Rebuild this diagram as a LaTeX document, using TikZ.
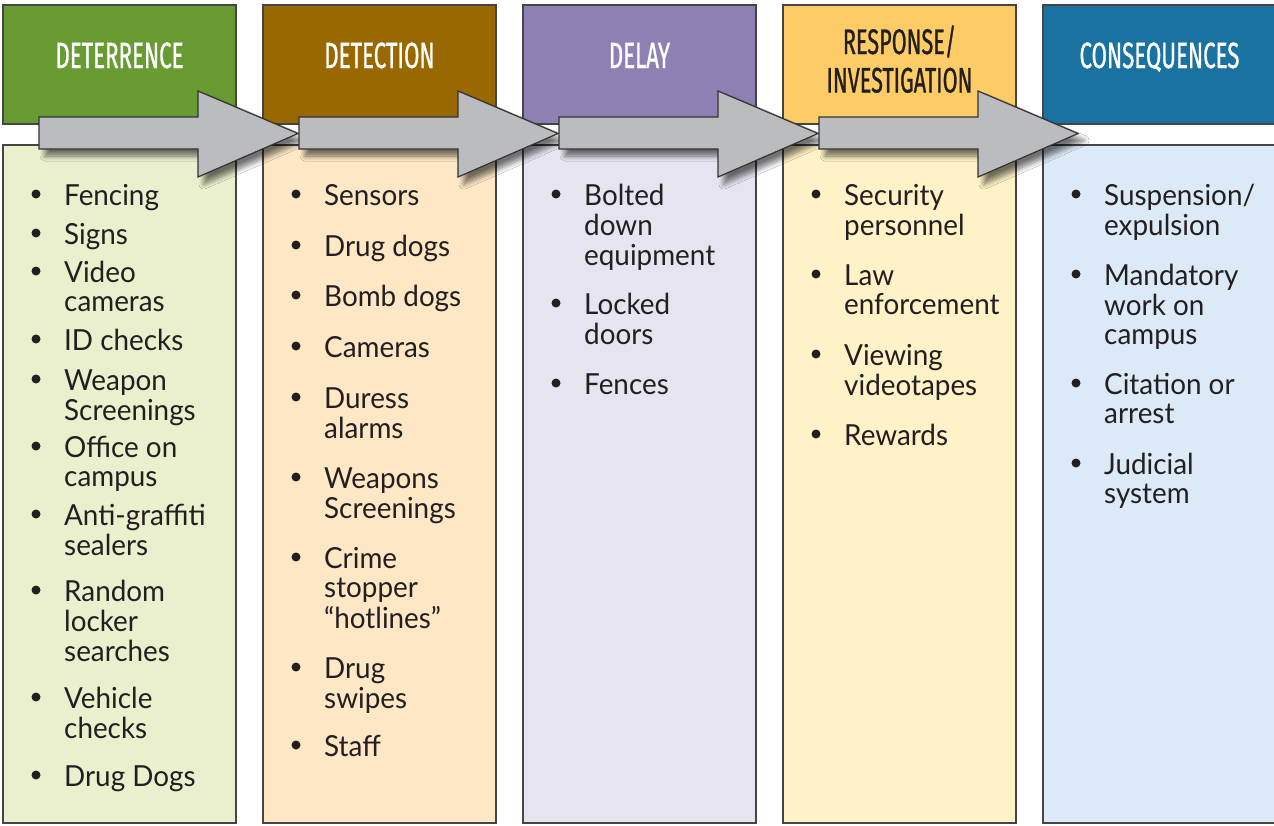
\documentclass[tikz,border=0pt]{standalone}
\usepackage{fontspec}
\setmainfont{Lato}[FakeStretch=0.96]
\newfontfamily\headfont[FakeStretch=0.61,FakeBold=0.8]{Fira Sans}
\usetikzlibrary{shadows.blur}
\definecolor{hA}{HTML}{689C32}
\definecolor{bA}{HTML}{EAF0CE}
\definecolor{hB}{HTML}{9A6800}
\definecolor{bB}{HTML}{FDE7C5}
\definecolor{hC}{HTML}{8F80B4}
\definecolor{bC}{HTML}{E7E4F1}
\definecolor{hD}{HTML}{FECC66}
\definecolor{bD}{HTML}{FFF2C7}
\definecolor{hE}{HTML}{1A72A1}
\definecolor{bE}{HTML}{DCEAF7}
\definecolor{ink}{HTML}{231F20}
\definecolor{edge}{HTML}{454545}
\definecolor{arrfill}{HTML}{BBBCC0}
\tikzset{
  boxline/.style={draw=edge, line width=1.2pt},
  titletext/.style={font=\headfont\fontsize{36.5}{38.5}\selectfont, text=white, anchor=base, inner sep=0pt},
  itemtext/.style={font=\fontsize{29}{29.7}\selectfont, text=ink, anchor=base west, inner sep=0pt},
  bul/.style={circle, fill=ink, minimum size=9pt, inner sep=0pt},
  blockarrow/.style={draw=black!80, line width=1.2pt, fill=arrfill, line join=miter,
     blur shadow={shadow xshift=6pt, shadow yshift=-7pt, shadow blur steps=8, shadow blur radius=5pt, shadow opacity=55}}
}
\newcommand{\bitem}[4]{%
  \node[bul] (#1b) at (#2+33,#3-11) {};
  \node[itemtext] (#1) at (#2+61,#3) {\begin{tabular}[t]{@{}l@{}}#4\end{tabular}};}
\begin{document}
\begin{tikzpicture}[x=1pt,y=-1pt]
\useasboundingbox (0,0) rectangle (1274,825);
\fill[white] (0,0) rectangle (1274,825);
% headers and bodies
\foreach \i/\h/\b in {0/hA/bA,1/hB/bB,2/hC/bC,3/hD/bD,4/hE/bE}{
  \pgfmathsetmacro{\xo}{3+260*\i}
  \draw[boxline, fill=\h] (\xo,5) rectangle (\xo+233,124);
  \draw[boxline, fill=\b] (\xo,145) rectangle (\xo+233,823);
}
% titles
\node[titletext] (t1) at (119.5,68) {DETERRENCE};
\node[titletext] (t2) at (379.5,68) {DETECTION};
\node[titletext] (t3) at (639.5,68) {DELAY};
\node[titletext, text=ink, font=\headfont\fontsize{35.5}{38.5}\selectfont] (t4) at (899.5,54) {\begin{tabular}[t]{@{}c@{}}RESPONSE/\\INVESTIGATION\end{tabular}};
\node[titletext] (t5) at (1159.5,68) {CONSEQUENCES};
% arrows
\foreach \o in {0,260,520,780}{
  \draw[blockarrow] (39+\o,117) -- (198+\o,117) -- (198+\o,91) -- (298+\o,133.5)
     -- (198+\o,177) -- (198+\o,149) -- (39+\o,149) -- cycle;
}
% column 1
\bitem{a1}{3}{205}{Fencing}
\bitem{a2}{3}{244}{Signs}
\bitem{a3}{3}{282}{Video\\cameras}
\bitem{a4}{3}{350}{ID checks}
\bitem{a5}{3}{390}{Weapon\\Screenings}
\bitem{a6}{3}{457}{Office on\\campus}
\bitem{a7}{3}{525}{Anti-graffiti\\sealers}
\bitem{a8}{3}{601}{Random\\locker\\searches}
\bitem{a9}{3}{708}{Vehicle\\checks}
\bitem{a10}{3}{786}{Drug Dogs}
% column 2
\bitem{b1}{263}{205}{Sensors}
\bitem{b2}{263}{256}{Drug dogs}
\bitem{b3}{263}{306}{Bomb dogs}
\bitem{b4}{263}{357}{Cameras}
\bitem{b5}{263}{408}{Duress\\alarms}
\bitem{b6}{263}{488}{Weapons\\Screenings}
\bitem{b7}{263}{568}{Crime\\stopper\\“hotlines”}
\bitem{b8}{263}{678}{Drug\\swipes}
\bitem{b9}{263}{756}{Staff}
% column 3
\bitem{c1}{523}{205}{Bolted\\down\\equipment}
\bitem{c2}{523}{314}{Locked\\doors}
\bitem{c3}{523}{394}{Fences}
% column 4
\bitem{d1}{783}{205}{Security\\personnel}
\bitem{d2}{783}{285}{Law\\enforcement}
\bitem{d3}{783}{365}{Viewing\\videotapes}
\bitem{d4}{783}{445}{Rewards}
% column 5
\bitem{e1}{1043}{205}{Suspension/\\expulsion}
\bitem{e2}{1043}{285}{Mandatory\\work on\\campus}
\bitem{e3}{1043}{394}{Citation or\\arrest}
\bitem{e4}{1043}{474}{Judicial\\system}
\end{tikzpicture}
\end{document}
